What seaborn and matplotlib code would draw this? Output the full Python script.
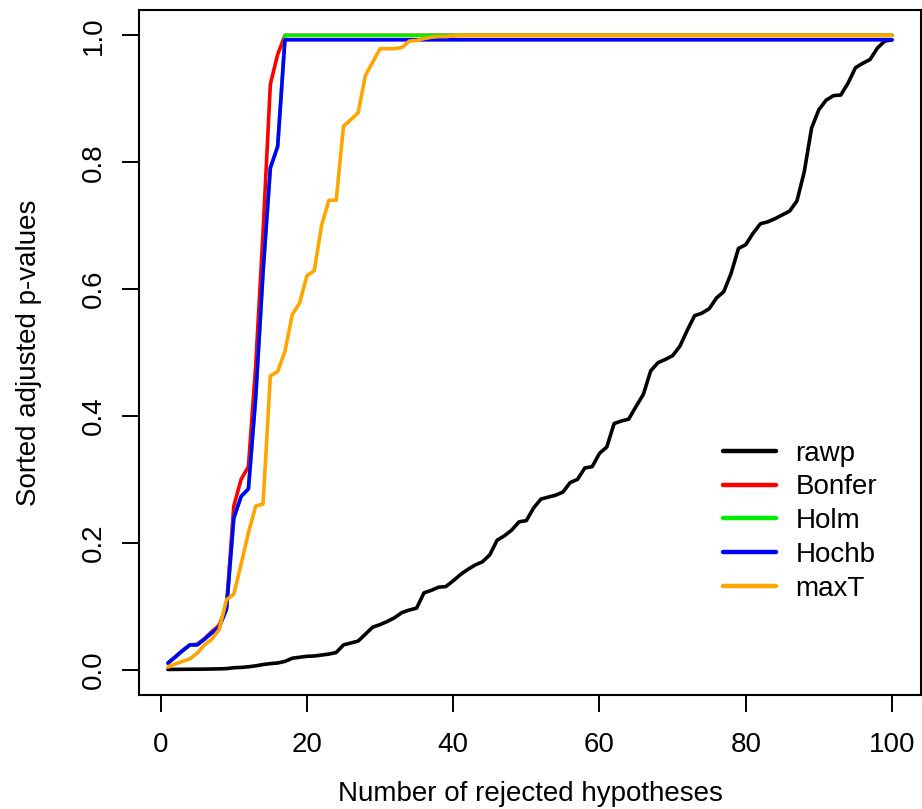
import numpy as np
import pandas as pd
import matplotlib
matplotlib.use("Agg")
import matplotlib.pyplot as plt
import seaborn as sns

# ---- data ----
rank = list(range(1, 101))

rawp = [0.0003, 0.0004, 0.0005, 0.0006, 0.0007, 0.0008, 0.0010, 0.0012, 0.0016, 0.0030,
        0.0035, 0.0045, 0.0060, 0.0080, 0.0095, 0.0105, 0.0130, 0.0180, 0.0195, 0.0210,
        0.0215, 0.0230, 0.0245, 0.0270, 0.0390, 0.0420, 0.0450, 0.0560, 0.0670, 0.0710,
        0.0760, 0.0820, 0.0900, 0.0940, 0.0970, 0.1210, 0.1250, 0.1300, 0.1310, 0.1400,
        0.1500, 0.1580, 0.1650, 0.1700, 0.1810, 0.2040, 0.2110, 0.2200, 0.2330, 0.2350,
        0.2550, 0.2690, 0.2720, 0.2750, 0.2800, 0.2950, 0.3000, 0.3180, 0.3200, 0.3410,
        0.3510, 0.3880, 0.3920, 0.3950, 0.4150, 0.4340, 0.4710, 0.4840, 0.4890, 0.4950,
        0.5100, 0.5350, 0.5580, 0.5620, 0.5690, 0.5860, 0.5960, 0.6250, 0.6640, 0.6700,
        0.6880, 0.7030, 0.7060, 0.7110, 0.7170, 0.7230, 0.7390, 0.7850, 0.8540, 0.8830,
        0.8980, 0.9050, 0.9060, 0.9250, 0.9490, 0.9560, 0.9620, 0.9800, 0.9910, 0.9930]

bonfer_head = [0.010, 0.020, 0.030, 0.039, 0.040, 0.049, 0.060, 0.070, 0.100, 0.258,
               0.300, 0.320, 0.480, 0.690, 0.923, 0.970]
bonfer = bonfer_head + [1.0] * 84

holm_head = [0.0105, 0.020, 0.030, 0.039, 0.039, 0.048, 0.058, 0.067, 0.095, 0.239,
             0.273, 0.285, 0.430, 0.627, 0.791, 0.825]
holm = holm_head + [1.0] * 84

hochb_head = [0.0105, 0.020, 0.030, 0.039, 0.039, 0.048, 0.058, 0.067, 0.095, 0.239,
              0.273, 0.285, 0.430, 0.627, 0.791, 0.825]
hochb = hochb_head + [0.993] * 84

maxt_head = [0.004, 0.009, 0.013, 0.017, 0.026, 0.039, 0.048, 0.063, 0.110, 0.119,
             0.166, 0.216, 0.258, 0.261, 0.463, 0.470, 0.502, 0.560, 0.578, 0.621,
             0.629, 0.700, 0.740, 0.740, 0.857, 0.867, 0.878, 0.937, 0.958, 0.979,
             0.979, 0.979, 0.981, 0.991, 0.992, 0.995, 0.997, 0.998, 0.998, 0.999]
maxt = maxt_head + [1.0] * 60

methods = ["rawp", "Bonfer", "Holm", "Hochb", "maxT"]
colors = ["black", "#FF0000", "#00EE00", "#0000FF", "#FFA500"]
xticks = [0, 20, 40, 60, 80, 100]
yticks = [0.0, 0.2, 0.4, 0.6, 0.8, 1.0]

series = {"rawp": rawp, "Bonfer": bonfer, "Holm": holm, "Hochb": hochb, "maxT": maxt}
df = pd.concat([pd.DataFrame({"rank": rank, "p": series[m], "method": m}) for m in methods],
               ignore_index=True)

# ---- plot ----
sns.set_style("ticks")
plt.rcParams["font.family"] = ["Liberation Sans", "DejaVu Sans"]
plt.rcParams["text.color"] = "black"
plt.rcParams["axes.labelcolor"] = "black"

FS = 20

fig = plt.figure(figsize=(9.22, 8.09), dpi=100)
ax = fig.add_axes([139 / 922, 1 - 695 / 809, (921 - 139) / 922, (695 - 10) / 809])

sns.lineplot(data=df, x="rank", y="p", hue="method", hue_order=methods,
             palette=dict(zip(methods, colors)), linewidth=2.6, ax=ax,
             estimator=None, sort=False)

ax.set_xlim(-2.96, 103.96)
ax.set_ylim(-0.04, 1.04)
ax.set_xticks(xticks)
ax.set_xticklabels([str(t) for t in xticks])
ax.set_yticks(yticks)
ax.set_yticklabels([f"{t:.1f}" for t in yticks], rotation=90, va="center")
ax.tick_params(axis="both", direction="out", length=12, width=1.4, labelsize=FS,
               colors="black")
ax.tick_params(axis="x", pad=15)
ax.tick_params(axis="y", pad=11)
for s in ax.spines.values():
    s.set_visible(True)
    s.set_linewidth(1.5)
    s.set_color("black")

ax.set_xlabel("Number of rejected hypotheses", fontsize=FS, labelpad=16.5, color="black")
ax.set_ylabel("Sorted adjusted p-values", fontsize=FS, labelpad=28, color="black")

leg = ax.legend(loc="upper left", bbox_to_anchor=(0.715, 0.408), frameon=False,
                fontsize=FS, handlelength=1.9, handletextpad=0.7, labelspacing=0.28)
for line in leg.get_lines():
    line.set_linewidth(3.2)
for t in leg.get_texts():
    t.set_color("black")

fig.savefig("out.png", dpi=100)
